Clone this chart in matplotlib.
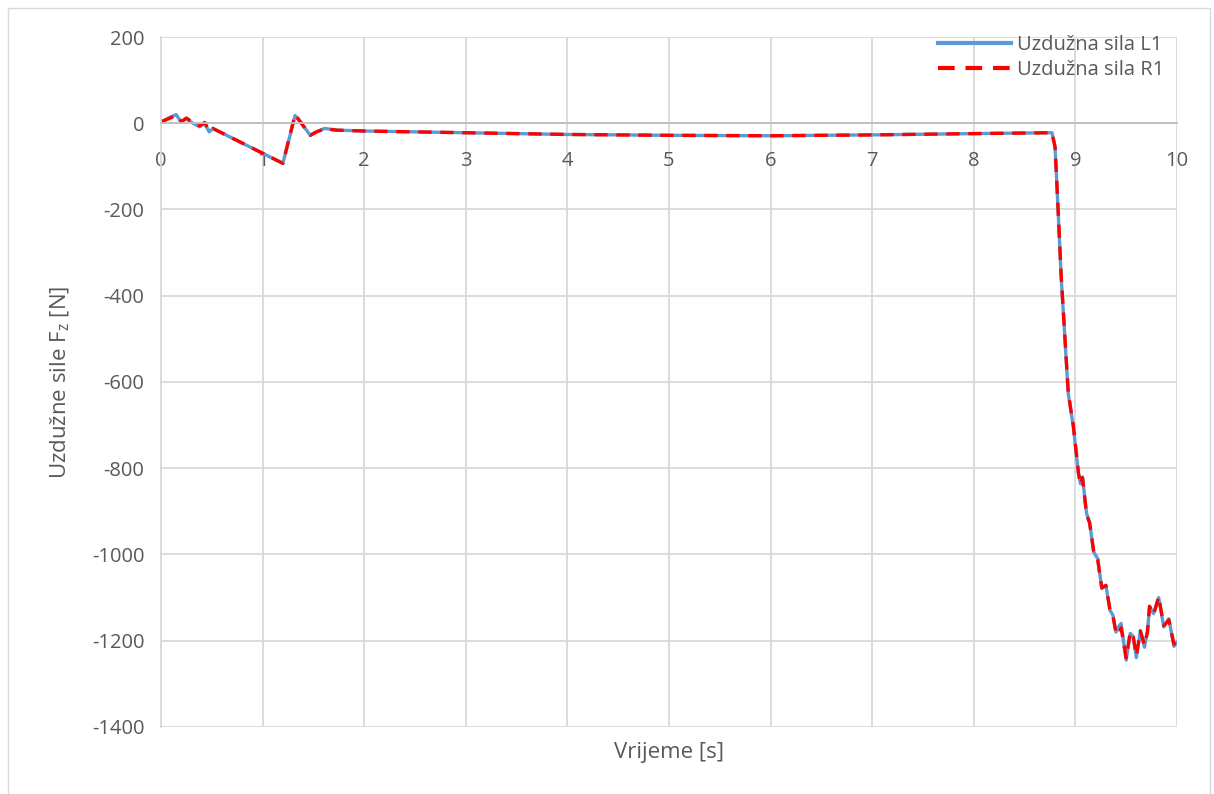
import matplotlib.pyplot as plt
from matplotlib.patches import Rectangle

plt.rcParams['font.family'] = ['Open Sans', 'DejaVu Sans']
plt.rcParams['mathtext.fontset'] = 'custom'
plt.rcParams['mathtext.rm'] = 'Open Sans'
plt.rcParams['mathtext.it'] = 'Open Sans'
plt.rcParams['axes.unicode_minus'] = False

# vrijeme [s]
time = [0, 0.09, 0.15, 0.2, 0.25, 0.3, 0.38, 0.43, 0.475, 0.51, 1.2, 1.32, 1.385,
        1.47, 1.53, 1.61, 1.73, 2.0, 2.5, 3, 4, 5, 6, 7, 8, 8.77, 8.80, 8.83, 8.86,
        8.90, 8.93, 8.98, 9.03, 9.05, 9.07, 9.11, 9.14, 9.18, 9.22, 9.26, 9.30, 9.34,
        9.37, 9.40, 9.43, 9.45, 9.50, 9.54, 9.57, 9.60, 9.64, 9.68, 9.71, 9.73, 9.77,
        9.82, 9.87, 9.92, 9.97, 10.0]

# uzduzna sila L1 [N]
force_L1 = [3, 14, 20, 2, 11, 2, -8, -1, -20, -12, -93, 18, -1,
            -28, -20, -12, -16, -18, -20, -22, -26, -28, -29, -27, -24, -22, -55, -202, -356,
            -511, -627, -704, -812, -836, -820, -905, -925, -994, -1010, -1079, -1071, -1129,
            -1141, -1180, -1166, -1160, -1245, -1183, -1190, -1239, -1176, -1215, -1176, -1122, -1137,
            -1100, -1168, -1149, -1213, -1203]

# uzduzna sila R1 [N]
force_R1 = [3, 12, 18, 4, 12, 4, -6, 2, -18, -12, -93, 20, -1,
            -28, -20, -13, -16, -18, -20, -22, -26, -28, -29, -27, -24, -22, -55, -200, -352,
            -508, -625, -702, -810, -838, -822, -907, -927, -992, -1012, -1077, -1072, -1127,
            -1143, -1182, -1185, -1170, -1240, -1180, -1192, -1235, -1178, -1210, -1180, -1120, -1139,
            -1098, -1165, -1152, -1208, -1200]

fig = plt.figure(figsize=(12.14, 7.94), dpi=100)
ax = fig.add_axes([0.1326, 0.0844, 0.8369, 0.869])

fig.patches.append(Rectangle((0.007, -0.01), 0.99, 1.0, transform=fig.transFigure,
                             fill=False, edgecolor='#d9d9d9', linewidth=1))

ax.plot(time, force_L1, color='#5B9BD5', linewidth=2.4, label='Uzdužna sila L1')
ax.plot(time, force_R1, color='#FF0000', linewidth=2.4, dashes=(4, 2.6),
        label='Uzdužna sila R1')

ax.set_xlim(0, 10)
ax.set_ylim(-1400, 200)
ax.set_xticks(range(0, 11))
ax.set_yticks(range(-1400, 201, 200))
ax.grid(True, color='#d9d9d9', linewidth=1.3)
ax.set_axisbelow(True)

for s in ['top', 'right']:
    ax.spines[s].set_visible(False)
ax.spines['left'].set_color('#d9d9d9')
ax.spines['left'].set_linewidth(1.3)
ax.spines['bottom'].set_position(('data', 0))
ax.spines['bottom'].set_color('#bfbfbf')
ax.spines['bottom'].set_linewidth(1.3)

ax.tick_params(axis='both', length=0, labelsize=14.5, labelcolor='#595959')
ax.tick_params(axis='y', pad=12)
ax.tick_params(axis='x', pad=20)

ax.set_xlabel('Vrijeme [s]', fontsize=16, color='#595959')
ax.xaxis.set_label_coords(0.5, -0.022)
ax.set_ylabel('Uzdužne sile F$_z$ [N]', fontsize=16, color='#595959', labelpad=14)

leg = ax.legend(loc='upper right', frameon=False, fontsize=14.5, handlelength=3.6,
                handletextpad=0.3, borderaxespad=0.0, labelspacing=0.25,
                bbox_to_anchor=(0.995, 1.015))
for t in leg.get_texts():
    t.set_color('#595959')
for ln in leg.get_lines():
    ln.set_linewidth(3)

fig.savefig('out.png', dpi=100)
